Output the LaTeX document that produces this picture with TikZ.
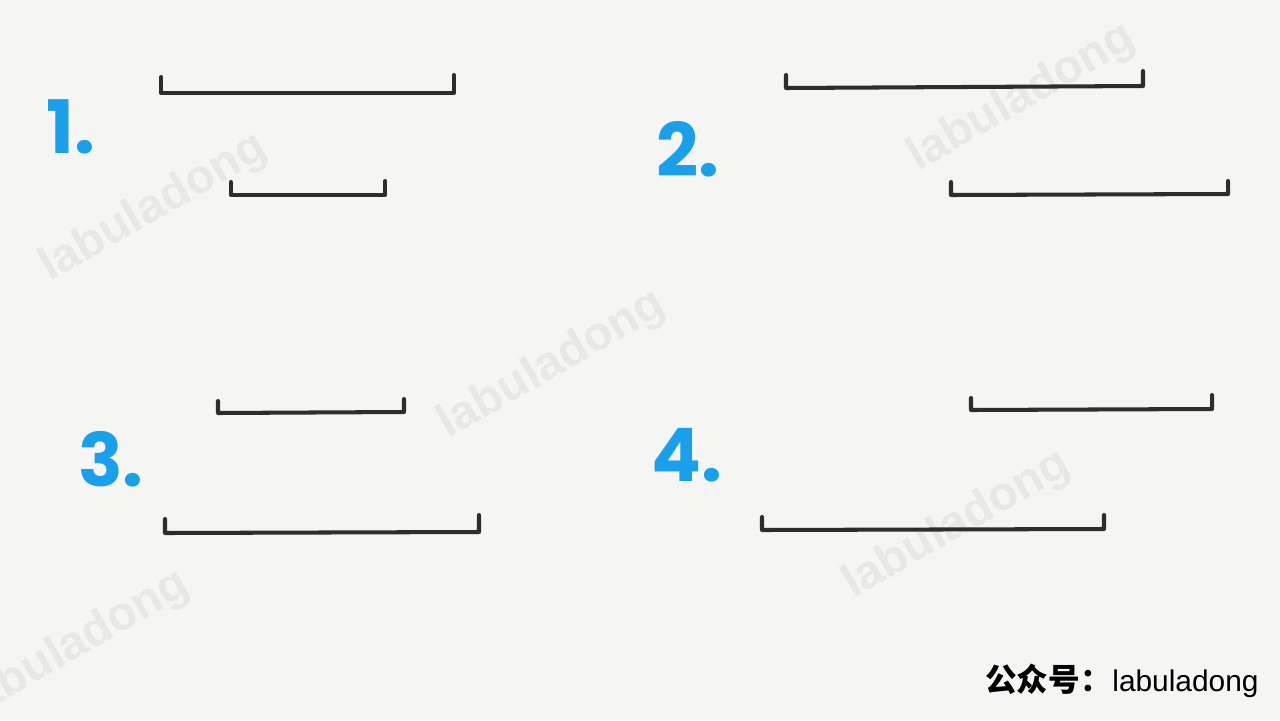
\documentclass[tikz,border=0pt]{standalone}
\usepackage{fontspec}
\setmainfont{Liberation Sans}
\newfontfamily\cjkfont{Noto Sans CJK SC}
\newfontfamily\numfont{Poppins}
\definecolor{paper}{HTML}{F5F5F3}
\definecolor{ink}{HTML}{2E2D2B}
\definecolor{numblue}{HTML}{1AA0EA}
\definecolor{wmgray}{HTML}{E8E8E6}

\begin{document}
\begin{tikzpicture}[x=0.02cm, y=-0.02cm,
  seg/.style={draw=ink, line width=2.3pt, line cap=round, line join=round},
  num/.style={text=numblue, anchor=base west, inner sep=0pt,
              font=\numfont\bfseries\fontsize{42}{42}\selectfont},
  wmark/.style={text=wmgray, rotate=30, inner sep=0pt,
                font=\bfseries\fontsize{27}{27}\selectfont}]

  \useasboundingbox (0,0) rectangle (1280,720);
  \fill[paper] (0,0) rectangle (1280,720);

  % watermarks
  \begin{scope}
    \clip (0,0) rectangle (1280,720);
    \node[wmark] (wm1) at (154,208) {labuladong};
    \node[wmark] (wm2) at (552,365) {labuladong};
    \node[wmark] (wm3) at (1022,98) {labuladong};
    \node[wmark] (wm4) at (957,525) {labuladong};
    \node[wmark] (wm5) at (76,645)  {labuladong};
  \end{scope}

  % case numbers
  \node[num] (n1) at (46,153)  {1.};
  \node[num] (n2) at (656,176) {2.};
  \node[num] (n3) at (78,486)  {3.};
  \node[num] (n4) at (651,481) {4.};

  % case 1
  \draw[seg] (161,77) -- (161,93) -- (454,93) -- (454,75);
  \draw[seg] (231,182) -- (231,195) -- (385,195) -- (385,181);

  % case 2
  \draw[seg] (786,75) -- (786,88) -- (1143,86) -- (1143,71);
  \draw[seg] (951,182) -- (951,195) -- (1228,194) -- (1228,181);

  % case 3
  \draw[seg] (218,401) -- (218,413) -- (404,412) -- (404,399);
  \draw[seg] (165,519) -- (165,533) -- (479,532) -- (479,515);

  % case 4
  \draw[seg] (971,398) -- (971,410) -- (1212,409) -- (1212,395);
  \draw[seg] (762,517) -- (762,530) -- (1104,529) -- (1104,515);

  % signature
  \node[anchor=base west, inner sep=0pt, font=\fontsize{17}{17}\selectfont]
       (sig) at (1112,691) {labuladong};
  \node[anchor=base east, inner sep=0pt, font=\cjkfont\bfseries\fontsize{18}{18}\selectfont]
       (sigcn) at (sig.base west) {公众号：};

\end{tikzpicture}
\end{document}
